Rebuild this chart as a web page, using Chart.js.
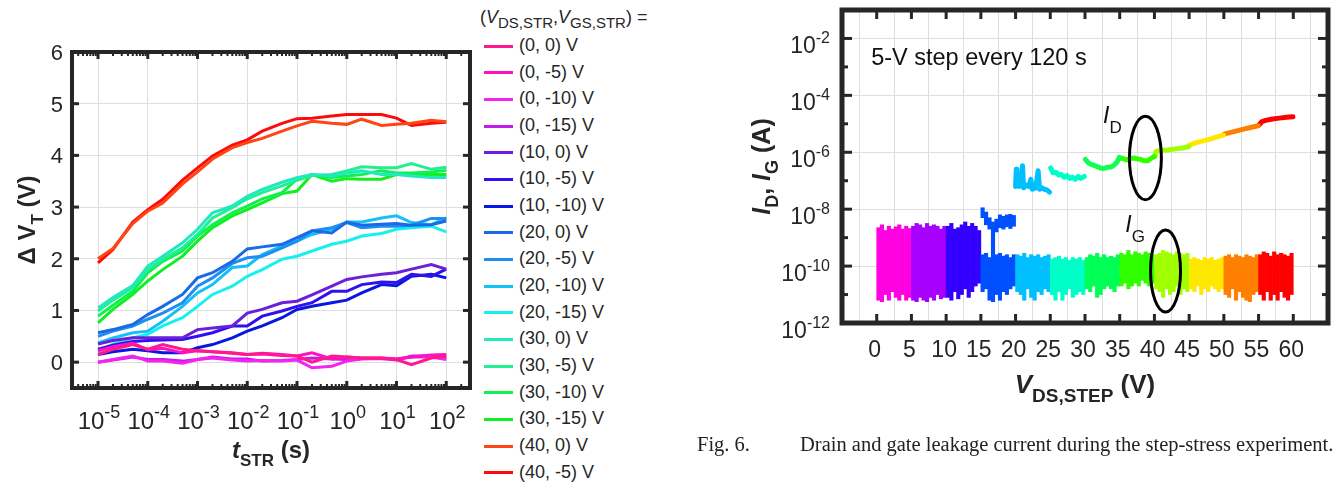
<!DOCTYPE html>
<html>
<head>
<meta charset="utf-8">
<title>Threshold shift and step-stress leakage</title>
<script src="https://cdn.jsdelivr.net/npm/chart.js@4.4.1/dist/chart.umd.min.js"></script>
<style>
  body { margin: 0; width: 1342px; height: 487px; background: #fff; position: relative; overflow: hidden;
         font-family: "Liberation Sans", Arial, sans-serif; color: #262626; }
  canvas { position: absolute; top: 0; }
  #shiftChart { left: 0; }
  #stepChart { left: 690px; }
  #legendTitle { position: absolute; left: 480px; top: 7px; font-size: 18px; white-space: nowrap; }
  #legendTitle sub { font-size: 15px; vertical-align: -5px; line-height: 0; }
  #legendList { position: absolute; left: 484px; top: 32px; margin: 0; padding: 0; list-style: none; }
  #legendList li { height: 26.67px; line-height: 26.67px; font-size: 18px; white-space: nowrap; }
  .legend-color { display: inline-block; width: 29px; height: 3px; vertical-align: middle; margin-right: 6px; }
  #caption { position: absolute; top: 433px; left: 697px; font-family: "Liberation Serif", "Times New Roman", serif;
             font-size: 20.5px; color: #222; white-space: nowrap; }
  #caption .body { position: absolute; left: 103px; top: 0; }
</style>
</head>
<body>
<canvas id="shiftChart" width="480" height="487"></canvas>
<div id="legendTitle">(<i>V</i><sub>DS,STR</sub>,<i>V</i><sub>GS,STR</sub>) =</div>
<ul id="legendList"></ul>
<canvas id="stepChart" width="652" height="487"></canvas>
<div id="caption"><span>Fig. 6.</span><span class="body">Drain and gate leakage current during the step-stress experiment.</span></div>

<script>
const SANS = '"Liberation Sans", Arial, sans-serif';
const INK = '#262626';

// ---------- threshold shift vs stress time ----------
const stressTimes = [1e-5, 2e-5, 5e-5, 1e-4, 2e-4, 5e-4, 1e-3, 2e-3, 5e-3, 1e-2, 2e-2, 5e-2,
                     0.1, 0.2, 0.5, 1, 2, 5, 10, 20, 50, 100];

const biasLabels = ['(0, 0) V', '(0, -5) V', '(0, -10) V', '(0, -15) V',
                    '(10, 0) V', '(10, -5) V', '(10, -10) V',
                    '(20, 0) V', '(20, -5) V', '(20, -10) V', '(20, -15) V',
                    '(30, 0) V', '(30, -5) V', '(30, -10) V', '(30, -15) V',
                    '(40, 0) V', '(40, -5) V'];
const biasColors = ['#ff1a8c', '#ff10c0', '#f523f0', '#c41ce8',
                    '#6b1fd9', '#3010ef', '#0818e0',
                    '#1a6ae6', '#1c8ff0', '#14c0f5', '#18f0f0',
                    '#20e8c0', '#20f090', '#10f050', '#10ef20',
                    '#ff4513', '#ff0a0a'];

const dvt_0_0    = [0.15, 0.25, 0.34, 0.25, 0.34, 0.25, 0.22, 0.2, 0.17, 0.15, 0.16, 0.13, 0.12, 0.0, 0.12, 0.1, 0.08, 0.08, 0.05, -0.05, 0.08, 0.12];
const dvt_0_m5   = [0.22, 0.3, 0.37, 0.24, 0.27, 0.18, 0.22, 0.2, 0.18, 0.15, 0.17, 0.15, 0.12, 0.18, 0.06, 0.1, 0.08, 0.08, 0.06, 0.1, 0.14, 0.15];
const dvt_0_m10  = [0.0, 0.05, 0.12, 0.02, 0.02, -0.02, 0.05, 0.08, 0.04, 0.02, 0.03, 0.02, 0.04, -0.11, -0.08, 0.02, 0.06, 0.07, 0.06, 0.1, 0.1, 0.05];
const dvt_0_m15  = [0.0, 0.04, 0.1, 0.05, 0.05, 0.02, 0.05, 0.1, 0.06, 0.06, 0.02, 0.03, 0.05, 0.08, 0.06, 0.05, 0.07, 0.07, 0.04, 0.12, 0.12, 0.08];
const dvt_10_0   = [0.35, 0.42, 0.47, 0.47, 0.47, 0.47, 0.63, 0.66, 0.7, 0.95, 1.02, 1.15, 1.18, 1.3, 1.47, 1.6, 1.65, 1.7, 1.73, 1.8, 1.89, 1.8];
const dvt_10_m5  = [0.25, 0.33, 0.4, 0.42, 0.43, 0.44, 0.5, 0.57, 0.7, 0.7, 0.89, 0.99, 1.08, 1.15, 1.37, 1.37, 1.5, 1.55, 1.54, 1.7, 1.66, 1.8];
const dvt_10_m10 = [0.15, 0.2, 0.25, 0.22, 0.18, 0.18, 0.28, 0.34, 0.47, 0.6, 0.7, 0.86, 1.02, 1.08, 1.15, 1.2, 1.34, 1.5, 1.48, 1.66, 1.7, 1.63];
const dvt_20_0   = [0.57, 0.63, 0.73, 0.92, 1.08, 1.31, 1.63, 1.73, 1.95, 2.19, 2.23, 2.28, 2.41, 2.54, 2.5, 2.71, 2.65, 2.67, 2.68, 2.65, 2.66, 2.73];
const dvt_20_m5  = [0.5, 0.6, 0.7, 0.83, 0.95, 1.15, 1.47, 1.63, 1.91, 2.02, 2.05, 2.21, 2.34, 2.54, 2.6, 2.7, 2.6, 2.63, 2.63, 2.65, 2.78, 2.78];
const dvt_20_m10 = [0.37, 0.47, 0.57, 0.6, 0.79, 1.08, 1.34, 1.5, 1.83, 1.86, 2.08, 2.25, 2.34, 2.47, 2.57, 2.71, 2.71, 2.79, 2.83, 2.7, 2.66, 2.79];
const dvt_20_m15 = [0.21, 0.35, 0.47, 0.54, 0.7, 0.86, 1.08, 1.31, 1.47, 1.66, 1.79, 1.99, 2.05, 2.15, 2.28, 2.34, 2.44, 2.49, 2.57, 2.6, 2.63, 2.52];
const dvt_30_0   = [1.05, 1.25, 1.48, 1.86, 2.05, 2.31, 2.57, 2.89, 3.02, 3.21, 3.34, 3.48, 3.57, 3.63, 3.6, 3.66, 3.7, 3.63, 3.63, 3.6, 3.57, 3.57];
const dvt_30_m5  = [0.99, 1.2, 1.44, 1.79, 1.99, 2.21, 2.47, 2.79, 2.99, 3.16, 3.28, 3.41, 3.52, 3.61, 3.63, 3.7, 3.78, 3.76, 3.76, 3.84, 3.73, 3.77];
const dvt_30_m10 = [0.89, 1.1, 1.37, 1.73, 1.95, 2.15, 2.44, 2.66, 2.89, 3.02, 3.16, 3.28, 3.54, 3.63, 3.57, 3.6, 3.63, 3.7, 3.66, 3.66, 3.68, 3.71];
const dvt_30_m15 = [0.76, 1.02, 1.31, 1.57, 1.79, 2.05, 2.34, 2.6, 2.83, 2.95, 3.08, 3.26, 3.31, 3.63, 3.5, 3.55, 3.54, 3.54, 3.63, 3.63, 3.63, 3.63];
const dvt_40_0   = [2.0, 2.2, 2.68, 2.92, 3.08, 3.45, 3.68, 3.93, 4.15, 4.25, 4.33, 4.47, 4.57, 4.66, 4.62, 4.6, 4.7, 4.58, 4.6, 4.62, 4.68, 4.65];
const dvt_40_m5  = [1.92, 2.18, 2.71, 2.95, 3.15, 3.52, 3.76, 3.99, 4.2, 4.3, 4.47, 4.62, 4.71, 4.72, 4.76, 4.79, 4.79, 4.79, 4.72, 4.58, 4.62, 4.64];

const shiftSeries = [dvt_0_0, dvt_0_m5, dvt_0_m10, dvt_0_m15, dvt_10_0, dvt_10_m5, dvt_10_m10,
                     dvt_20_0, dvt_20_m5, dvt_20_m10, dvt_20_m15, dvt_30_0, dvt_30_m5, dvt_30_m10, dvt_30_m15,
                     dvt_40_0, dvt_40_m5];

const timeDecades = [1e-5, 1e-4, 1e-3, 1e-2, 1e-1, 1, 10, 100];
const shiftTicks = [0, 1, 2, 3, 4, 5, 6];

// ---------- step-stress leakage ----------
const stepStarts = [0, 5, 10, 15, 20, 25, 30, 35, 40, 45, 50, 55];
const stepColors = ['#ff00e0', '#a800ff', '#3300ff', '#0050ff', '#00bfff', '#00ffc8',
                    '#00ff55', '#30ff00', '#a0ff00', '#ffe800', '#ff8000', '#ff0000'];
const columnOffsets = [0.25, 0.75, 1.25, 1.75, 2.25, 2.75, 3.25, 3.75, 4.25, 4.75];

// log10 of the upper and lower edge of the noise floor, per step and column
const floorTopLog = [
  [-8.65, -8.55, -8.75, -8.6, -8.7, -8.62, -8.55, -8.7, -8.6, -8.68],
  [-8.6, -8.5, -8.55, -8.65, -8.5, -8.6, -8.55, -8.6, -8.7, -8.6],
  [-8.6, -8.5, -8.7, -8.65, -8.55, -8.45, -8.6, -8.5, -8.6, -8.75],
  [-9.6, -9.55, -9.7, -9.5, -9.6, -9.55, -9.65, -9.6, -9.7, -9.6],
  [-9.6, -9.65, -9.55, -9.7, -9.6, -9.65, -9.6, -9.7, -9.65, -9.6],
  [-9.75, -9.7, -9.65, -9.75, -9.7, -9.8, -9.7, -9.75, -9.7, -9.8],
  [-9.7, -9.6, -9.65, -9.55, -9.7, -9.6, -9.7, -9.65, -9.7, -9.6],
  [-9.55, -9.6, -9.45, -9.6, -9.5, -9.55, -9.6, -9.5, -9.55, -9.6],
  [-9.6, -9.55, -9.45, -9.5, -9.55, -9.6, -9.5, -9.55, -9.6, -9.55],
  [-9.75, -9.7, -9.75, -9.8, -9.7, -9.75, -9.7, -9.8, -9.75, -9.7],
  [-9.65, -9.6, -9.7, -9.6, -9.65, -9.7, -9.6, -9.65, -9.7, -9.6],
  [-9.6, -9.5, -9.55, -9.65, -9.5, -9.6, -9.55, -9.6, -9.65, -9.55]
];
const floorBottomLog = [
  [-11.2, -11.25, -11.0, -11.2, -10.9, -11.1, -11.2, -11.0, -11.2, -11.1],
  [-11.2, -11.25, -11.1, -11.2, -11.25, -11.1, -11.2, -11.0, -11.15, -11.1],
  [-11.1, -11.2, -10.9, -11.15, -11.0, -10.8, -11.1, -10.9, -10.7, -10.6],
  [-10.9, -10.8, -11.2, -11.25, -11.0, -11.2, -10.9, -11.0, -10.8, -10.7],
  [-10.9, -11.0, -11.2, -10.8, -11.1, -11.2, -10.9, -11.0, -10.8, -10.9],
  [-11.0, -11.2, -10.9, -11.2, -11.0, -10.8, -11.1, -11.0, -10.9, -11.0],
  [-10.8, -10.9, -10.7, -11.1, -11.0, -10.8, -10.7, -10.8, -10.9, -10.7],
  [-10.7, -10.6, -10.8, -10.7, -10.6, -10.7, -10.5, -10.6, -10.7, -10.6],
  [-10.8, -10.9, -11.1, -10.8, -11.0, -10.9, -10.7, -11.0, -10.8, -10.9],
  [-10.8, -10.9, -10.7, -11.0, -10.8, -10.9, -10.7, -10.8, -10.9, -10.8],
  [-11.0, -11.1, -10.8, -11.2, -10.9, -11.1, -11.2, -11.25, -11.0, -10.9],
  [-11.0, -11.2, -10.9, -11.2, -11.0, -11.2, -10.9, -11.1, -11.2, -11.0]
];

// noisy drain current during the 15-20 V step (log10 A)
const drain15TopLog    = [-7.95, -8.1, -8.3, -8.45, -8.35, -8.2, -8.25, -8.2, -8.18, -8.22];
const drain15BottomLog = [-8.3, -8.55, -8.7, -9.5, -8.8, -8.65, -8.7, -8.62, -8.68, -8.6];

// drain current traces, [V_DS, log10 I_D]
const drain20 = [[20.0, -7.2], [20.1, -6.6], [20.2, -7.15], [20.5, -7.2], [20.8, -7.15], [21.0, -6.47], [21.15, -7.25],
                 [21.5, -7.15], [21.9, -7.2], [22.2, -6.95], [22.4, -7.3], [22.9, -7.25], [23.25, -6.65], [23.45, -7.3],
                 [23.8, -7.25], [24.1, -7.3], [24.5, -7.32], [24.9, -7.4]];
const drain25 = [[25.05, -6.55], [25.4, -6.72], [25.8, -6.7], [26.2, -6.8], [26.6, -6.78], [27.0, -6.88], [27.4, -6.82],
                 [27.8, -6.92], [28.2, -6.88], [28.6, -6.95], [29.0, -6.85], [29.4, -6.92], [29.9, -6.85]];
const drain30 = [[30.05, -6.25], [30.4, -6.35], [30.8, -6.42], [31.2, -6.45], [31.7, -6.5], [32.2, -6.55], [32.7, -6.57],
                 [33.2, -6.53], [33.7, -6.52], [34.2, -6.45], [34.6, -6.35], [34.95, -6.18]];
const drain35 = [[35.05, -6.2], [35.5, -6.22], [36.0, -6.27], [36.5, -6.22], [37.0, -6.2], [37.5, -6.23], [38.0, -6.25],
                 [38.5, -6.3], [39.0, -6.3], [39.5, -6.22], [39.95, -6.15]];
const drain40 = [[40.05, -6.15], [40.25, -5.97], [41.0, -5.93], [42.0, -5.92], [43.0, -5.88], [44.0, -5.85], [44.95, -5.8]];
const drain45 = [[45.05, -5.75], [46.0, -5.66], [47.0, -5.6], [48.0, -5.54], [49.0, -5.46], [49.95, -5.4]];
const drain50 = [[50.05, -5.36], [51.0, -5.3], [52.0, -5.24], [53.0, -5.18], [54.0, -5.12], [54.95, -5.07]];
const drain55 = [[55.05, -5.04], [55.5, -4.92], [56.0, -4.88], [57.0, -4.83], [58.0, -4.8], [59.0, -4.77], [59.95, -4.75]];
const drainTraces = [drain20, drain25, drain30, drain35, drain40, drain45, drain50, drain55];
const drainColors = ['#00bfff', '#00ffc8', '#10ff50', '#30ff00', '#a0ff00', '#ffe800', '#ff8000', '#ff0000'];

const voltTicks = [0, 5, 10, 15, 20, 25, 30, 35, 40, 45, 50, 55, 60];
const currentDecades = [-12, -11, -10, -9, -8, -7, -6, -5, -4, -3, -2, -1];
const currentLabels = [-12, -10, -8, -6, -4, -2];

// ---------- drawing helpers ----------
function drawRuns(ctx, runs, x, y, align) {
  let width = 0;
  runs.forEach(r => { ctx.font = r.font; r.w = ctx.measureText(r.text).width; width += r.w; });
  let cx = align === 'right' ? x - width : align === 'center' ? x - width / 2 : x;
  runs.forEach(r => { ctx.font = r.font; ctx.fillText(r.text, cx, y + (r.dy || 0)); cx += r.w; });
}

function powerLabel(exp, size, supSize) {
  return [{ text: '10', font: `${size}px ${SANS}` },
          { text: String(exp), font: `${supSize}px ${SANS}`, dy: -Math.round(size * 0.45) }];
}

function seg(ctx, x1, y1, x2, y2) {
  ctx.beginPath(); ctx.moveTo(x1, y1); ctx.lineTo(x2, y2); ctx.stroke();
}

const shiftFrame = {
  id: 'shiftFrame',
  afterDraw(chart) {
    const { ctx, chartArea: a, scales: { x, y } } = chart;
    ctx.save();
    ctx.strokeStyle = INK;
    ctx.fillStyle = INK;
    ctx.textAlign = 'left';
    ctx.textBaseline = 'alphabetic';

    // inward log ticks along top and bottom
    for (let e = -6; e <= 2; e++) {
      for (let m = 1; m < 10; m++) {
        const v = m * Math.pow(10, e);
        if (v < x.min || v > x.max) continue;
        const px = x.getPixelForValue(v);
        const len = m === 1 ? 7 : 4;
        ctx.lineWidth = m === 1 ? 3 : 2;
        seg(ctx, px, a.bottom, px, a.bottom - len);
        seg(ctx, px, a.top, px, a.top + len);
      }
    }
    ctx.lineWidth = 3;
    shiftTicks.forEach(v => {
      const py = y.getPixelForValue(v);
      seg(ctx, a.left, py, a.left + 7, py);
      seg(ctx, a.right, py, a.right - 7, py);
    });

    ctx.lineWidth = 4;
    ctx.strokeRect(a.left, a.top, a.right - a.left, a.bottom - a.top);

    // tick labels
    shiftTicks.forEach(v => {
      drawRuns(ctx, [{ text: String(v), font: `22px ${SANS}` }], a.left - 9, y.getPixelForValue(v) + 8, 'right');
    });
    timeDecades.forEach(v => {
      drawRuns(ctx, powerLabel(Math.round(Math.log10(v)), 24, 18), x.getPixelForValue(v) + 1, a.bottom + 41, 'center');
    });

    // axis titles
    drawRuns(ctx, [{ text: 't', font: `italic bold 24px ${SANS}` },
                   { text: 'STR', font: `bold 17px ${SANS}`, dy: 8 },
                   { text: ' (s)', font: `bold 24px ${SANS}` }],
             (a.left + a.right) / 2, a.bottom + 70, 'center');
    ctx.translate(a.left - 37, (a.top + a.bottom) / 2);
    ctx.rotate(-Math.PI / 2);
    drawRuns(ctx, [{ text: 'Δ ', font: `bold 24px ${SANS}` },
                   { text: 'V', font: `bold 24px ${SANS}` },
                   { text: 'T', font: `bold 17px ${SANS}`, dy: 8 },
                   { text: ' (V)', font: `bold 24px ${SANS}` }], 0, 0, 'center');
    ctx.restore();
  }
};

const stepFrame = {
  id: 'stepFrame',
  afterDraw(chart) {
    const { ctx, chartArea: a, scales: { x, y } } = chart;
    ctx.save();
    ctx.strokeStyle = INK;
    ctx.fillStyle = INK;
    ctx.textAlign = 'left';
    ctx.textBaseline = 'alphabetic';

    ctx.lineWidth = 3;
    voltTicks.forEach(v => {
      const px = x.getPixelForValue(v);
      seg(ctx, px, a.bottom, px, a.bottom - 9);
      seg(ctx, px, a.top, px, a.top + 9);
    });
    currentDecades.forEach(e => {
      const py = y.getPixelForValue(Math.pow(10, e));
      const len = e % 2 === 0 ? 10 : 6;
      seg(ctx, a.left, py, a.left + len, py);
      seg(ctx, a.right, py, a.right - len, py);
    });

    ctx.lineWidth = 5;
    ctx.strokeRect(a.left, a.top, a.right - a.left, a.bottom - a.top);

    voltTicks.forEach(v => {
      drawRuns(ctx, [{ text: String(v), font: `23px ${SANS}` }], x.getPixelForValue(v) - 2, a.bottom + 34, 'center');
    });
    currentLabels.forEach(e => {
      drawRuns(ctx, powerLabel(e, 23, 16), a.left - 12, y.getPixelForValue(Math.pow(10, e)) + 15, 'right');
    });

    drawRuns(ctx, [{ text: 'V', font: `italic bold 26px ${SANS}` },
                   { text: 'DS,STEP', font: `bold 19px ${SANS}`, dy: 9 },
                   { text: ' (V)', font: `bold 26px ${SANS}` }],
             (a.left + a.right) / 2, a.bottom + 70, 'center');

    // annotations
    ctx.fillStyle = '#111';
    drawRuns(ctx, [{ text: '5-V step every 120 s', font: `23.5px ${SANS}` }],
             x.getPixelForValue(-0.8), y.getPixelForValue(1.2e-3), 'left');
    drawRuns(ctx, [{ text: 'I', font: `italic 23px ${SANS}` }, { text: 'D', font: `17px ${SANS}`, dy: 10 }],
             x.getPixelForValue(32.6), y.getPixelForValue(1.07e-5), 'left');
    drawRuns(ctx, [{ text: 'I', font: `italic 23px ${SANS}` }, { text: 'G', font: `17px ${SANS}`, dy: 10 }],
             x.getPixelForValue(35.8), y.getPixelForValue(1.6e-9), 'left');

    ctx.strokeStyle = '#000';
    ctx.lineWidth = 3;
    [[38.7, -6.2, 2.3, 1.47], [41.6, -10.17, 2.16, 1.44]].forEach(([cv, ce, rv, re]) => {
      const cx = x.getPixelForValue(cv);
      const cy = y.getPixelForValue(Math.pow(10, ce));
      const rx = x.getPixelForValue(cv + rv) - cx;
      const ry = cy - y.getPixelForValue(Math.pow(10, ce + re));
      ctx.beginPath();
      ctx.ellipse(cx, cy, rx, ry, 0, 0, Math.PI * 2);
      ctx.stroke();
    });

    ctx.fillStyle = INK;
    ctx.translate(a.left - 72, (a.top + a.bottom) / 2);
    ctx.rotate(-Math.PI / 2);
    drawRuns(ctx, [{ text: 'I', font: `italic bold 25px ${SANS}` },
                   { text: 'D', font: `bold 18px ${SANS}`, dy: 8 },
                   { text: ', ', font: `bold 25px ${SANS}` },
                   { text: 'I', font: `italic bold 25px ${SANS}` },
                   { text: 'G', font: `bold 18px ${SANS}`, dy: 8 },
                   { text: ' (A)', font: `bold 25px ${SANS}` }], 0, 0, 'center');
    ctx.restore();
  }
};

function hiddenAxis(extra) {
  return Object.assign({
    ticks: { display: false },
    grid: { color: '#dedede', lineWidth: 1, drawTicks: false },
    border: { display: false }
  }, extra);
}

function drawShiftChart() {
  const datasets = shiftSeries.map((vals, i) => ({
    label: biasLabels[i],
    data: vals.map((v, k) => ({ x: stressTimes[k], y: v })),
    borderColor: biasColors[i],
    borderWidth: 3,
    pointRadius: 0,
    tension: 0,
    fill: false
  }));

  new Chart(document.getElementById('shiftChart'), {
    type: 'line',
    data: { datasets },
    options: {
      responsive: false,
      animation: false,
      events: [],
      layout: { padding: { left: 72, top: 52, right: 10, bottom: 99 } },
      plugins: { legend: { display: false }, tooltip: { enabled: false } },
      scales: {
        x: hiddenAxis({ type: 'logarithmic', min: 3e-6, max: 300,
          afterBuildTicks: s => { s.ticks = timeDecades.map(v => ({ value: v })); } }),
        y: hiddenAxis({ type: 'linear', min: -0.5, max: 6,
          afterBuildTicks: s => { s.ticks = shiftTicks.map(v => ({ value: v })); } })
      }
    },
    plugins: [shiftFrame]
  });

  renderLegend();
}

function renderLegend() {
  const legend = document.getElementById('legendList');
  legend.innerHTML = '';
  biasLabels.forEach((label, i) => {
    const item = document.createElement('li');
    item.innerHTML = `<span class="legend-color" style="background:${biasColors[i]}"></span>${label}`;
    legend.appendChild(item);
  });
}

function drawStepChart() {
  const floor = [], floorColors = [];
  stepStarts.forEach((s, i) => {
    columnOffsets.forEach((o, k) => {
      floor.push({ x: s + o, y: [10 ** floorBottomLog[i][k], 10 ** floorTopLog[i][k]] });
      floorColors.push(stepColors[i]);
    });
  });
  const noisyDrain = columnOffsets.map((o, k) => ({ x: 15 + o, y: [10 ** drain15BottomLog[k], 10 ** drain15TopLog[k]] }));

  const traces = drainTraces.map((pts, i) => ({
    type: 'line',
    data: pts.map(([v, e]) => ({ x: v, y: 10 ** e })),
    borderColor: drainColors[i],
    borderWidth: 5,
    borderJoinStyle: 'round',
    borderCapStyle: 'round',
    pointRadius: 0,
    tension: 0,
    order: 0
  }));

  const bars = [
    { type: 'bar', data: floor, backgroundColor: floorColors, grouped: false,
      barPercentage: 1, categoryPercentage: 1, borderWidth: 0, order: 2 },
    { type: 'bar', data: noisyDrain, backgroundColor: stepColors[3], grouped: false,
      barPercentage: 1, categoryPercentage: 1, borderWidth: 0, order: 1 }
  ];

  new Chart(document.getElementById('stepChart'), {
    type: 'bar',
    data: { datasets: [...traces, ...bars] },
    options: {
      responsive: false,
      animation: false,
      events: [],
      layout: { padding: { left: 152, top: 10, right: 14, bottom: 164 } },
      plugins: { legend: { display: false }, tooltip: { enabled: false } },
      scales: {
        x: hiddenAxis({ type: 'linear', min: -5, max: 65, offset: false,
          afterBuildTicks: s => { s.ticks = voltTicks.map(v => ({ value: v })); } }),
        y: hiddenAxis({ type: 'logarithmic', min: 1e-12, max: 1e-1,
          afterBuildTicks: s => { s.ticks = [-10, -8, -6, -4, -2].map(e => ({ value: 10 ** e })); } })
      }
    },
    plugins: [stepFrame]
  });
}

drawShiftChart();
drawStepChart();
</script>
</body>
</html>
